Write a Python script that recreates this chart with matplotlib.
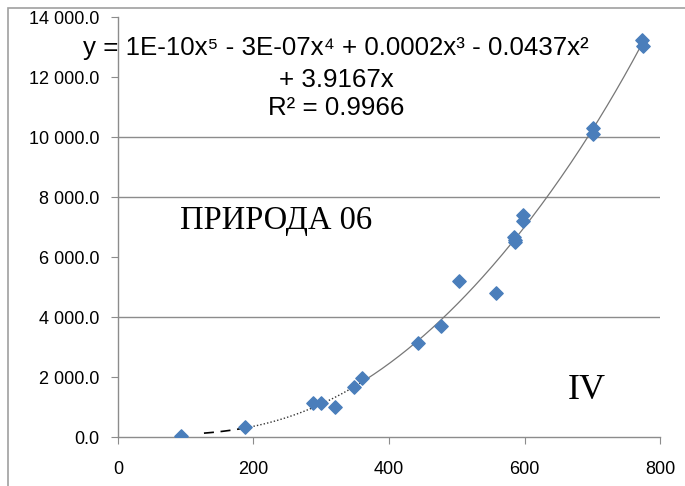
import matplotlib
matplotlib.use("Agg")
import matplotlib.pyplot as plt
from matplotlib.patches import Rectangle
from matplotlib.ticker import FuncFormatter
import numpy as np

x_vals = [93, 188, 288, 299, 320, 348, 360, 443, 476, 503, 557, 584, 585, 586,
          598, 598, 700, 701, 773, 774]
y_vals = [50, 330, 1130, 1150, 1010, 1660, 1960, 3120, 3710, 5200, 4810, 6670,
          6500, 6580, 7400, 7190, 10300, 10100, 13250, 13050]

eq_lines = ["y = 1E-10x⁵ - 3E-07x⁴ + 0.0002x³ - 0.0437x²",
            "+ 3.9167x",
            "R² = 0.9966"]
label_main = "ПРИРОДА 06"
label_zone = "IV"
x_ticks = [0, 200, 400, 600, 800]
y_ticks = [0, 2000, 4000, 6000, 8000, 10000, 12000, 14000]
grid_levels = [4000, 8000, 10000]

BLUE = "#4a7ebb"
GRAY = "#8c8c8c"
SANS = ["Liberation Sans", "DejaVu Sans"]

x = np.asarray(x_vals, dtype=float)
y = np.asarray(y_vals, dtype=float)

# полиномиальный тренд 5-й степени без свободного члена
A = np.vstack([x**k for k in range(5, 0, -1)]).T
coef, *_ = np.linalg.lstsq(A, y, rcond=None)
poly = np.poly1d(np.append(coef, 0.0))

fig = plt.figure(figsize=(6.85, 4.86), dpi=100)
ax = fig.add_axes([0.172, 0.1008, 0.792, 0.864])

# рамка области диаграммы (видны только левая и верхняя стороны)
fig.patches.append(Rectangle((8 / 685, -0.1), 1.2, 1 - 8 / 486 + 0.1,
                             transform=fig.transFigure, fill=False,
                             edgecolor="#a0a0a0", lw=1.2))

for g in grid_levels:
    ax.axhline(g, color=GRAY, lw=1.0, zorder=1)

xs1 = np.linspace(127, 190, 20)
xs2 = np.linspace(190, 365, 60)
xs3 = np.linspace(365, 775, 200)
ax.plot(xs1, poly(xs1), color="black", lw=1.2, ls=(0, (6, 4)), zorder=2)
ax.plot(xs2, poly(xs2), color="#333333", lw=1.0, ls=(0, (1, 1.5)), zorder=2)
ax.plot(xs3, poly(xs3), color="#777777", lw=0.9, zorder=2)

ax.scatter(x, y, marker="D", s=46, color=BLUE, edgecolors=BLUE, zorder=3)

ax.set_xlim(0, 800)
ax.set_ylim(0, 14000)
ax.set_xticks(x_ticks)
ax.set_yticks(y_ticks)
ax.yaxis.set_major_formatter(FuncFormatter(lambda v, p: f"{v:,.1f}".replace(",", " ")))

for s in ["top", "right"]:
    ax.spines[s].set_visible(False)
for s in ["left", "bottom"]:
    ax.spines[s].set_color(GRAY)
    ax.spines[s].set_linewidth(1.0)
ax.tick_params(axis="both", direction="out", length=5, color=GRAY, labelsize=13)
ax.tick_params(axis="x", pad=12)
ax.tick_params(axis="y", pad=8)
for lab in ax.get_xticklabels() + ax.get_yticklabels():
    lab.set_fontfamily(SANS)

eq_y = [0.926, 0.850, 0.783]
for line, yy in zip(eq_lines, eq_y):
    ax.text(0.402, yy, line, transform=ax.transAxes, ha="center",
            va="center", fontsize=18.6, family=SANS)

ax.text(0.115, 0.515, label_main, transform=ax.transAxes, ha="left",
        va="center", fontsize=23.5, family="Liberation Serif")
ax.text(0.83, 0.11, label_zone, transform=ax.transAxes, ha="left",
        va="center", fontsize=26, family="Liberation Serif")

fig.savefig("out.png", dpi=100)
